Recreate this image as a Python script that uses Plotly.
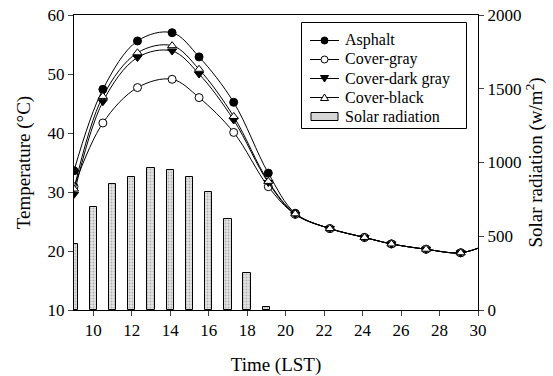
import plotly.graph_objects as go

# Temperature series (time in LST hours)
times = [9, 10.5, 12.3, 14.1, 15.5, 17.3, 19.1, 20.5, 22.3, 24.1, 25.5, 27.3, 29.1, 30.5]
asphalt = [33.6, 47.4, 55.6, 57.0, 52.9, 45.2, 33.2, 26.4, 23.8, 22.3, 21.2, 20.3, 19.7, 21.1]
cover_gray = [30.9, 41.7, 47.7, 49.1, 46.0, 40.1, 30.9, 26.2, 23.8, 22.3, 21.2, 20.3, 19.7, 21.1]
cover_dark_gray = [29.6, 45.3, 52.8, 53.9, 50.0, 42.2, 31.6, 26.2, 23.8, 22.3, 21.2, 20.3, 19.7, 21.1]
cover_black = [30.5, 46.2, 53.6, 54.8, 50.8, 42.8, 31.8, 26.3, 23.8, 22.3, 21.2, 20.3, 19.7, 21.1]

# Solar radiation (W/m^2)
solar_hours = [9, 10, 11, 12, 13, 14, 15, 16, 17, 18, 19]
solar = [447, 700, 852, 904, 960, 949, 900, 798, 617, 253, 22]

x_ticks = [10, 12, 14, 16, 18, 20, 22, 24, 26, 28, 30]
temp_ticks = [10, 20, 30, 40, 50, 60]
solar_ticks = [0, 500, 1000, 1500, 2000]

legend_names = ["Asphalt", "Cover-gray", "Cover-dark gray", "Cover-black", "Solar radiation"]

FONT = "Liberation Serif"
tickfont = dict(family=FONT, size=17, color="black")
titlefont = dict(family=FONT, size=19, color="black")

fig = go.Figure()

fig.add_trace(go.Bar(
    x=solar_hours, y=solar, name="Solar radiation", yaxis="y",
    width=0.38,
    marker=dict(color="#e4e4e4", line=dict(color="black", width=1),
                pattern=dict(shape=".", fgcolor="#7a7a7a", size=3, solidity=0.3)),
))

styles = [
    ("Asphalt", asphalt, "circle", "black"),
    ("Cover-gray", cover_gray, "circle", "white"),
    ("Cover-dark gray", cover_dark_gray, "triangle-down", "black"),
    ("Cover-black", cover_black, "triangle-up", "white"),
]
for name, vals, sym, fill in styles:
    fig.add_trace(go.Scatter(
        x=times, y=vals, name=name, yaxis="y2", mode="lines+markers",
        line=dict(color="black", width=1, shape="spline", smoothing=1.0),
        marker=dict(symbol=sym, size=8, color=fill, line=dict(color="black", width=1)),
    ))

# ---- manual legend (compact, like the reference) ----
PL, PR, PT, PB = 74, 478, 15, 310  # plot area in pixels
def px(x):
    return (x - PL) / (PR - PL)
def py(y):
    return (PB - y) / (PB - PT)

shapes = []
annotations = []
shapes.append(dict(type="rect", xref="paper", yref="paper",
                   x0=px(301.5), x1=px(466.5), y0=py(128.5), y1=py(22.5),
                   line=dict(color="black", width=1), fillcolor="white", layer="above"))
row0, dy = 40.5, 19.0
glyphs = [("circle", "black"), ("circle", "white"), ("tri-down", "black"),
          ("tri-up", "white"), ("bar", None)]
for i, (name, (g, fill)) in enumerate(zip(legend_names, glyphs)):
    ry = py(row0 + i * dy)
    if g == "bar":
        shapes.append(dict(type="rect", xref="paper", yref="paper",
                           xsizemode="pixel", ysizemode="pixel",
                           xanchor=px(324.5), yanchor=ry,
                           x0=-13.5, x1=13.5, y0=-4, y1=4,
                           line=dict(color="black", width=1), fillcolor="#d6d6d6",
                           layer="above"))
    else:
        shapes.append(dict(type="line", xref="paper", yref="paper",
                           x0=px(310), x1=px(339), y0=ry, y1=ry,
                           line=dict(color="black", width=1), layer="above"))
        if g == "circle":
            shapes.append(dict(type="circle", xref="paper", yref="paper",
                               xsizemode="pixel", ysizemode="pixel",
                               xanchor=px(324.5), yanchor=ry,
                               x0=-3.5, x1=3.5, y0=-3.5, y1=3.5,
                               line=dict(color="black", width=1), fillcolor=fill,
                               layer="above"))
        else:
            path = "M -4,3 L 4,3 L 0,-3.5 Z" if g == "tri-down" else "M -4,-3 L 4,-3 L 0,3.5 Z"
            shapes.append(dict(type="path", xref="paper", yref="paper",
                               xsizemode="pixel", ysizemode="pixel",
                               xanchor=px(324.5), yanchor=ry, path=path,
                               line=dict(color="black", width=1), fillcolor=fill,
                               layer="above"))
    annotations.append(dict(text=name, xref="paper", yref="paper",
                            x=px(344), y=ry, xanchor="left", yanchor="middle",
                            showarrow=False, borderpad=0,
                            font=dict(family=FONT, size=16, color="black")))

fig.update_layout(
    width=553, height=376,
    margin=dict(l=PL, r=553 - PR, t=PT, b=376 - PB),
    paper_bgcolor="white", plot_bgcolor="white",
    font=dict(family=FONT, size=17, color="black"),
    bargap=0,
    showlegend=False,
    shapes=shapes,
    annotations=annotations,
    xaxis=dict(range=[9, 30], tickvals=x_ticks, ticks="outside", ticklen=5,
               tickfont=tickfont, automargin=False,
               showline=True, linecolor="black", linewidth=1, mirror=True,
               showgrid=False, zeroline=False,
               title=dict(text="Time (LST)", font=titlefont, standoff=26)),
    yaxis=dict(range=[0, 2000], tickvals=solar_ticks, side="right", ticks="outside",
               tickfont=tickfont, automargin=False,
               ticklen=5, showline=True, linecolor="black", linewidth=1,
               showgrid=False, zeroline=False,
               title=dict(text="Solar radiation (w/m<sup>2</sup>)", font=titlefont, standoff=8)),
    yaxis2=dict(range=[10, 60], tickvals=temp_ticks, side="left", overlaying="y",
                tickfont=tickfont, automargin=False,
                ticks="outside", ticklen=5, showline=True, linecolor="black", linewidth=1,
                showgrid=False, zeroline=False,
                title=dict(text="Temperature (°C)", font=titlefont, standoff=11)),
)

fig.write_html("out.html")
